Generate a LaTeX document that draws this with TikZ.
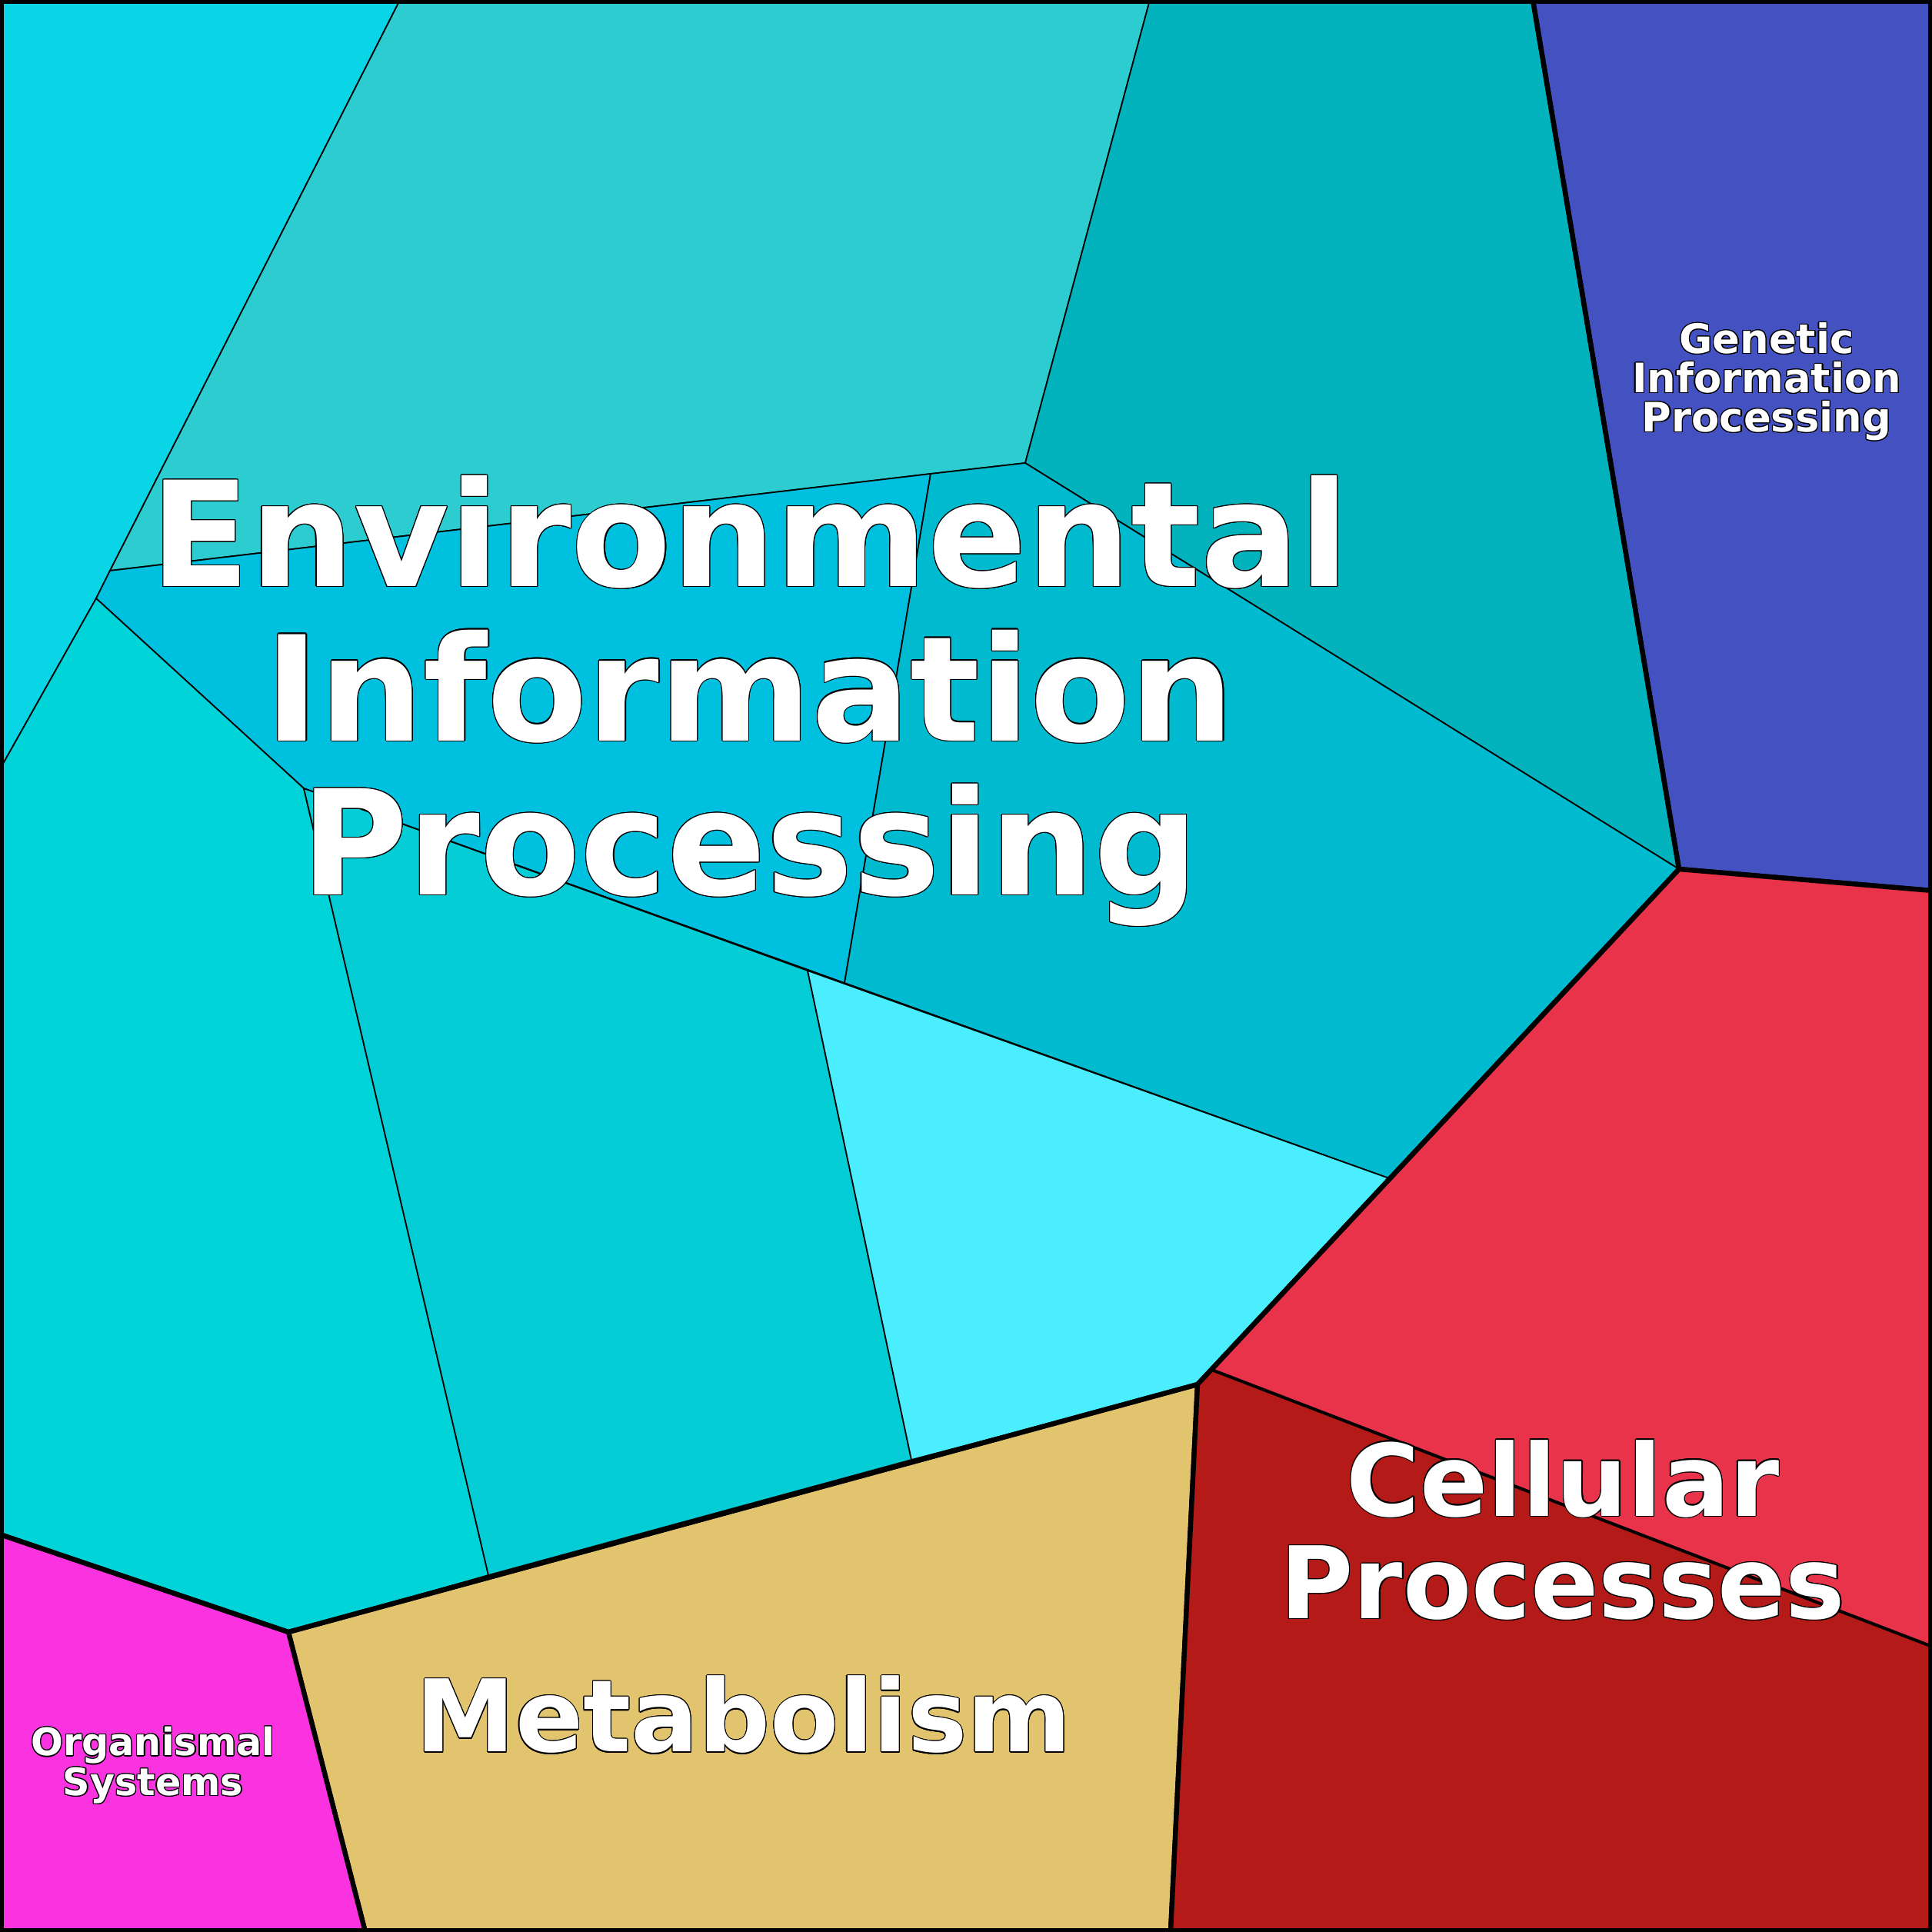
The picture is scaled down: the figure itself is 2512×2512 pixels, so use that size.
\documentclass[tikz,border=0pt]{standalone}
\usepackage{fontspec}
\setmainfont{DejaVu Sans}
\usepackage{contour}
\contourlength{0.35pt}
\begin{document}
\begin{tikzpicture}[x=0.01cm,y=-0.01cm,
  thin line/.style={draw=black,line width=0.5pt},
  thick line/.style={draw=black,line width=1.8pt},
  lbl/.style={text=white,font=\bfseries,align=center}]
\useasboundingbox (0,0) rectangle (2512,2512);
\fill[fill=cyan!80!blue] (0,0) rectangle (2512,2512);
\definecolor{cA}{HTML}{0AD5E6}\definecolor{cB}{HTML}{2DCCD0}\definecolor{cC}{HTML}{02B2BC}
\definecolor{cD}{HTML}{00C0DF}\definecolor{cE}{HTML}{00BBD0}\definecolor{cF}{HTML}{00D4D8}
\definecolor{cG}{HTML}{04CDD5}\definecolor{cH}{HTML}{4AEEFF}\definecolor{cM}{HTML}{E2C36E}
\definecolor{cO}{HTML}{FB32E0}\definecolor{cGe}{HTML}{4352C0}\definecolor{cR}{HTML}{E8334A}
\definecolor{cDR}{HTML}{B41A18}
\filldraw[fill=cA,thin line] (0,0)--(520,0)--(143,742)--(125,778)--(0,1000)--cycle;
\filldraw[fill=cB,thin line] (520,0)--(1495,0)--(1333,602)--(1210,616)--(143,742)--cycle;
\filldraw[fill=cC,thin line] (1495,0)--(1993,0)--(2183,1130)--(1333,602)--cycle;
\filldraw[fill=cD,thin line] (143,742)--(1210,616)--(1098,1278)--(395,1025)--(125,778)--cycle;
\filldraw[fill=cE,thin line] (1210,616)--(1333,602)--(2183,1130)--(1806,1532)--(1098,1278)--cycle;
\filldraw[fill=cF,thin line] (0,1000)--(125,778)--(395,1025)--(635,2048)--(375,2122)--(0,1995)--cycle;
\filldraw[fill=cG,thin line] (395,1025)--(1050,1262)--(1185,1898)--(635,2048)--cycle;
\filldraw[fill=cH,thin line] (1050,1262)--(1806,1532)--(1557,1800)--(1185,1898)--cycle;
\filldraw[fill=cM,thick line] (375,2122)--(1557,1800)--(1522,2512)--(475,2512)--cycle;
\filldraw[fill=cO,thick line] (0,1995)--(375,2122)--(475,2512)--(0,2512)--cycle;
\filldraw[fill=cGe,thick line] (1993,0)--(2512,0)--(2512,1158)--(2183,1130)--cycle;
\filldraw[fill=cR,thick line] (2183,1130)--(2512,1158)--(2512,2142)--(1575,1782)--(1557,1800)--cycle;
\filldraw[fill=cDR,thin line] (1557,1800)--(1575,1782)--(2512,2142)--(2512,2512)--(1522,2512)--cycle;
\draw[thick line] (1993,0)--(2183,1130)--(1557,1800)--(1522,2512);
\draw[thick line] (1557,1800)--(375,2122)--(0,1995);
\draw[line width=3pt] (0,0) rectangle (2512,2512);
\node[lbl,font=\bfseries\fontsize{54}{57}\selectfont] (env) at (975,912) {\contour{black}{Environmental}\\\contour{black}{Information}\\\contour{black}{Processing}};
\node[lbl,font=\bfseries\fontsize{37}{38}\selectfont] (cel) at (2032,1990) {\contour{black}{Cellular}\\\contour{black}{Processes}};
\node[lbl,font=\bfseries\fontsize{37}{38}\selectfont] (met) at (967,2230) {\contour{black}{Metabolism}};
\node[lbl,font=\bfseries\fontsize{15}{14.5}\selectfont] (gen) at (2297,497) {\contour{black}{Genetic}\\\contour{black}{Information}\\\contour{black}{Processing}};
\node[lbl,font=\bfseries\fontsize{14}{13.5}\selectfont] (org) at (199,2296) {\contour{black}{Organismal}\\\contour{black}{Systems}};
\end{tikzpicture}
\end{document}
